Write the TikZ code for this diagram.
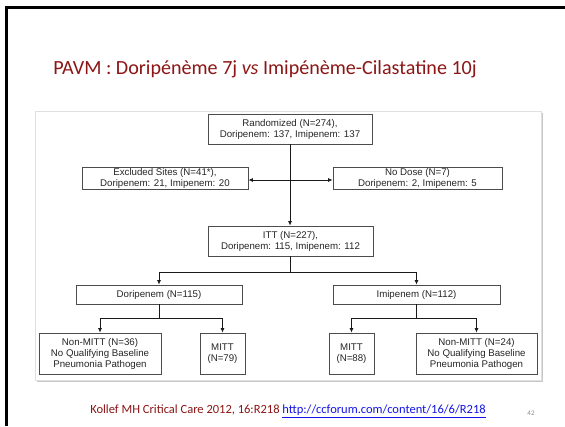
\documentclass[tikz,border=0pt]{standalone}
\usepackage{fontspec}
\setmainfont{Carlito}
\newfontfamily\arialf{Liberation Sans}
\usetikzlibrary{arrows.meta}
\definecolor{titlered}{RGB}{140,22,22}
\definecolor{linkblue}{RGB}{20,20,230}
\tikzset{
  box/.style={draw=black!70, line width=0.8pt, fill=white, font=\arialf\fontsize{9.7}{11}\selectfont, align=center, inner sep=1pt, text=black!85},
  conn/.style={line width=0.8pt, draw=black!90, -{Latex[length=4.5pt,width=4pt]}},
  dconn/.style={line width=0.8pt, draw=black!90, {Latex[length=4.5pt,width=4pt]}-{Latex[length=4.5pt,width=4pt]}}
}
\begin{document}
\begin{tikzpicture}[x=1pt,y=-1pt]
\useasboundingbox (0,0) rectangle (565,426);
\fill[white] (0,0) rectangle (565,426);
% slide frame
\draw[line width=2.5pt] (6.5,426) -- (6.5,7.5) -- (565,7.5);
% title
\node[text=titlered, font=\fontsize{20.1}{24}\selectfont] (title) at (265,69) {PAVM : Doripénème 7j \textit{vs} Imipénème-Cilastatine 10j};
% panel
\fill[black!22] (37,113) rectangle (543,382);
\draw[black!12, fill=white] (35,111) rectangle (541,380);
% nodes
\node[box, minimum width=164pt, minimum height=30pt] (rand) at (290,129) {Randomized (N=274),\\Doripenem: 137, Imipenem: 137};
\node[box, minimum width=166pt, minimum height=21pt] (excl) at (165,178) {Excluded Sites (N=41*),\\Doripenem: 21, Imipenem: 20};
\node[box, minimum width=169pt, minimum height=21pt] (nodose) at (417.5,178) {No Dose (N=7)\\Doripenem: 2, Imipenem: 5};
\node[box, minimum width=165pt, minimum height=30pt] (itt) at (290.5,241) {ITT (N=227),\\Doripenem: 115, Imipenem: 112};
\node[box, minimum width=166pt, minimum height=19pt] (dori) at (159,294.5) {Doripenem (N=115)};
\node[box, minimum width=167pt, minimum height=19pt] (imi) at (416.5,294.5) {Imipenem (N=112)};
\node[box, minimum width=122pt, minimum height=41pt] (nm1) at (100,353.5) {Non-MITT (N=36)\\No Qualifying Baseline\\Pneumonia Pathogen};
\node[box, minimum width=45pt, minimum height=41pt] (m79) at (222.5,353.5) {MITT\\(N=79)};
\node[box, minimum width=45pt, minimum height=41pt] (m88) at (351.5,353.5) {MITT\\(N=88)};
\node[box, minimum width=121pt, minimum height=41pt] (nm2) at (476.5,353.5) {Non-MITT (N=24)\\No Qualifying Baseline\\Pneumonia Pathogen};
% connectors
\draw[conn] (rand.south) -- (rand.south |- itt.north);
\coordinate (mid) at (290,180);
\draw[dconn] (excl.east |- mid) -- (nodose.west |- mid);
\draw[conn] (itt.south) -- ++(0,16) -| (dori.north);
\draw[conn] (itt.south) -- ++(0,16) -| (imi.north);
\draw[conn] (dori.south) -- ++(0,14) -| (nm1.north);
\draw[conn] (dori.south) -- ++(0,14) -| (m79.north);
\draw[conn] (imi.south) -- ++(0,14) -| (m88.north);
\draw[conn] (imi.south) -- ++(0,14) -| (nm2.north);
% footer
\node[font=\fontsize{12.5}{14}\selectfont] (foot) at (288,411) {\textcolor{titlered}{Kollef MH Critical Care 2012, 16:R218} \textcolor{linkblue}{\underline{http://ccforum.com/content/16/6/R218}}};
\node[font=\fontsize{7}{8}\selectfont, text=black!45] (pg) at (531,413) {42};
\end{tikzpicture}
\end{document}
